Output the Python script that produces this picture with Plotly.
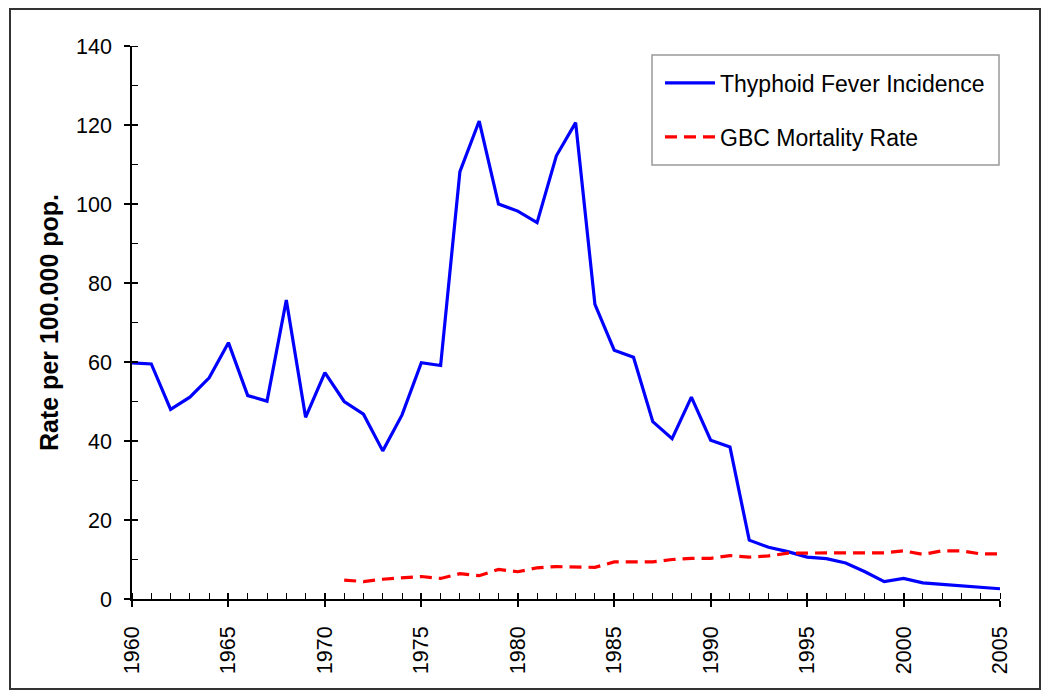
import plotly.graph_objects as go

years = list(range(1960, 2006))
typhoid = [59.8, 59.5, 48.0, 51.1, 56.0, 64.9, 51.5, 50.1, 75.7, 46.0,
           57.3, 50.0, 46.8, 37.5, 46.6, 59.8, 59.1, 108.2, 121.0, 100.0,
           98.2, 95.3, 112.2, 120.6, 74.6, 63.0, 61.2, 44.9, 40.6, 51.1,
           40.2, 38.5, 14.9, 13.1, 12.0, 10.6, 10.2, 9.1, 6.9, 4.4,
           5.2, 4.1, 3.7, 3.4, 3.0, 2.6]
gbc_years = list(range(1971, 2006))
gbc = [4.8, 4.4, 5.0, 5.4, 5.7, 5.2, 6.4, 5.9, 7.5, 6.9,
       7.9, 8.2, 8.2, 8.0, 9.4, 9.4, 9.4, 10.0, 10.3, 10.3,
       11.0, 10.6, 10.9, 11.6, 11.7, 11.7, 11.7, 11.7, 11.7, 12.2,
       11.3, 12.2, 12.2, 11.4, 11.4]

FONT = "Arial, Liberation Sans, sans-serif"

fig = go.Figure()
fig.add_trace(go.Scatter(x=years, y=typhoid, mode="lines", name="Thyphoid Fever Incidence",
                         line=dict(color="#0000ff", width=3.2), legendgroup="a"))
fig.add_trace(go.Scatter(x=gbc_years, y=gbc, mode="lines", name="GBC Mortality Rate",
                         line=dict(color="#ff0000", width=3.2, dash="12px,7px"), legendgroup="b"))
# helper trace for the crossing part of major ticks
fig.add_trace(go.Scatter(x=[1960], y=[0], mode="none", xaxis="x2", yaxis="y2",
                         showlegend=False, hoverinfo="skip"))

# page body has an 8px margin: figure starts at (8, 8) on screen
OFF = 8
W, H = 1050 - OFF, 696 - OFF
PL, PT, PR, PB = 132, 46, 1000, 599  # plot area in screen px
L, T = PL - OFF, PT - OFF
R, B = W - (PR - OFF), H - (PB - OFF)
pw, ph = PR - PL, PB - PT

def px(xp):
    return (xp - PL) / pw

def py(yp):
    return (PB - yp) / ph

fig.update_layout(
    width=W, height=H,
    margin=dict(l=L, r=R, t=T, b=B),
    paper_bgcolor="white", plot_bgcolor="white",
    font=dict(family=FONT, size=21.5, color="black"),
    showlegend=True,
    legend=dict(x=px(660), y=py(55), xanchor="left", yanchor="top",
                bgcolor="rgba(0,0,0,0)", bordercolor="rgba(0,0,0,0)", borderwidth=0,
                font=dict(size=23), itemwidth=50, tracegroupgap=21,
                traceorder="grouped",
                title=dict(text=" ", font=dict(size=5))),
    xaxis=dict(range=[1960, 2005], dtick=5, tick0=1960, tickangle=-90,
               showgrid=False, zeroline=False, showline=True, linecolor="black", linewidth=1.5,
               ticks="outside", ticklen=6, tickwidth=1.5, tickcolor="black",
               ticklabelstandoff=11,
               minor=dict(dtick=1, ticks="inside", ticklen=6, tickwidth=1.2, tickcolor="black")),
    yaxis=dict(range=[0, 140], dtick=20, showgrid=False, zeroline=False, showline=True,
               linecolor="black", linewidth=1.5,
               ticks="outside", ticklen=6, tickwidth=1.5, tickcolor="black",
               ticklabelstandoff=8,
               title=dict(text="<b>Rate per 100.000 pop.</b>", font=dict(size=25), standoff=10),
               minor=dict(dtick=10, ticks="inside", ticklen=6, tickwidth=1.2, tickcolor="black")),
    xaxis2=dict(overlaying="x", range=[1960, 2005], dtick=5, tick0=1960, showticklabels=False,
                showgrid=False, zeroline=False, showline=False, ticks="inside", ticklen=6,
                tickwidth=1.5, tickcolor="black", anchor="y2"),
    yaxis2=dict(overlaying="y", range=[0, 140], dtick=20, showticklabels=False,
                showgrid=False, zeroline=False, showline=False, ticks="inside", ticklen=6,
                tickwidth=1.5, tickcolor="black", anchor="x2"),
    shapes=[dict(type="rect", xref="paper", yref="paper",
                 x0=px(10), x1=px(1040), y0=py(689), y1=py(9),
                 line=dict(color="#333333", width=2), fillcolor="rgba(0,0,0,0)", layer="below"),
            dict(type="rect", xref="paper", yref="paper",
                 x0=px(652), x1=px(999), y0=py(165), y1=py(55),
                 line=dict(color="#999999", width=1.5), fillcolor="white", layer="above")],
)

fig.write_html("out.html")
